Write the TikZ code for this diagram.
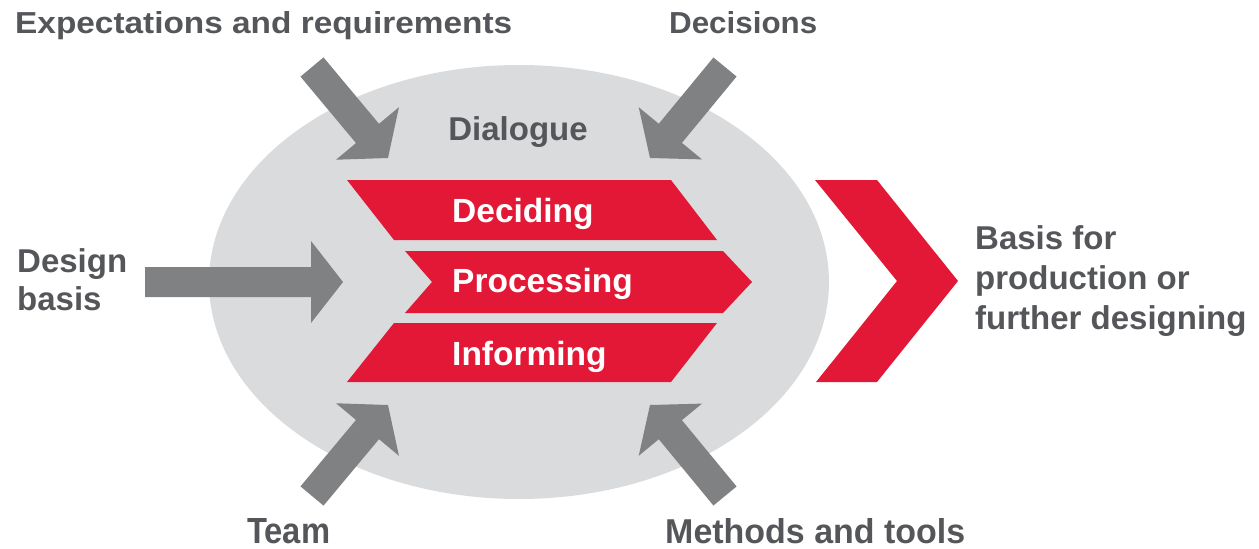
\documentclass[tikz,border=0pt]{standalone}
\usepackage{fontspec}
\setmainfont{Liberation Sans}
\usepackage{graphicx}
\usetikzlibrary{calc}
\definecolor{ellgray}{RGB}{218,219,221}
\definecolor{arrgray}{RGB}{128,129,131}
\definecolor{txtgray}{RGB}{85,86,89}
\definecolor{redc}{RGB}{226,24,54}
% block arrow from #1 (tail) to #2 (tip), #3 = name prefix
\newcommand\garrow[3]{%
  \coordinate (#3h) at ($(#2)!32pt!(#1)$);
  \fill[arrgray] ($(#1)!15pt!90:(#2)$) -- ($(#3h)!15pt!90:(#2)$) -- ($(#3h)!41pt!90:(#2)$)
    -- (#2) -- ($(#3h)!41pt!-90:(#2)$) -- ($(#3h)!15pt!-90:(#2)$) -- ($(#1)!15pt!-90:(#2)$) -- cycle;}
\begin{document}
\begin{tikzpicture}[x=1pt,y=-1pt,
  lbl/.style={inner sep=0pt, text=txtgray, font=\bfseries},
  big/.style={inner sep=0pt, text=txtgray, font=\fontsize{33}{38}\selectfont\bfseries},
  wlbl/.style={inner sep=0pt, text=white, font=\fontsize{33.5}{40}\selectfont\bfseries, anchor=base west},
  redshape/.style={fill=redc}]
\useasboundingbox (0,0) rectangle (1259,549);
% ellipse
\fill[ellgray] (519,282) ellipse [x radius=310, y radius=217];
% red bands
\fill[redshape] (347,180) -- (671,180) -- (717,240) -- (394,240) -- cycle;
\fill[redshape] (405,251) -- (723,251) -- (752,282) -- (723,313) -- (405,313) -- (432,282) -- cycle;
\fill[redshape] (394,323) -- (717,323) -- (671,382) -- (347,382) -- cycle;
% big chevron
\fill[redshape] (815,180) -- (877,180) -- (958,281) -- (877,382) -- (816,382) -- (897,281) -- cycle;
% arrows
\coordinate (tlA) at (312,67);  \coordinate (tlB) at (388,158);
\coordinate (trA) at (725,67);  \coordinate (trB) at (650,158);
\coordinate (blA) at (312,496); \coordinate (blB) at (388,405);
\coordinate (brA) at (725,496); \coordinate (brB) at (650,405);
\coordinate (lA) at (145,282);  \coordinate (lB) at (343,282);
\garrow{tlA}{tlB}{tl}
\garrow{trA}{trB}{tr}
\garrow{blA}{blB}{bl}
\garrow{brA}{brB}{br}
\garrow{lA}{lB}{l}
% labels
\node[lbl, anchor=base west] (exp) at (15,33) {\resizebox{497pt}{22pt}{Expectations and requirements}};
\node[lbl, anchor=base west] (dec) at (669,33) {\resizebox{148pt}{22pt}{Decisions}};
\node[lbl, anchor=base west] (team) at (247,543) {\resizebox{83pt}{25pt}{Team}};
\node[lbl, anchor=base west] (meth) at (665,543) {\resizebox{300pt}{25pt}{Methods and tools}};
\node[big, anchor=base] (dia) at (518,140) {Dialogue};
\node[big, anchor=base west] (des) at (17,310) {\begin{tabular}[b]{@{}l@{}}Design\\basis\end{tabular}};
\node[big, anchor=base west, font=\fontsize{33}{40}\selectfont\bfseries] (res) at (975,329) {\begin{tabular}[b]{@{}l@{}}Basis for\\production or\\further designing\end{tabular}};
\node[wlbl] (deciding) at (452,222) {Deciding};
\node[wlbl] (processing) at (452,292) {Processing};
\node[wlbl] (informing) at (452,365) {Informing};
\end{tikzpicture}
\end{document}
